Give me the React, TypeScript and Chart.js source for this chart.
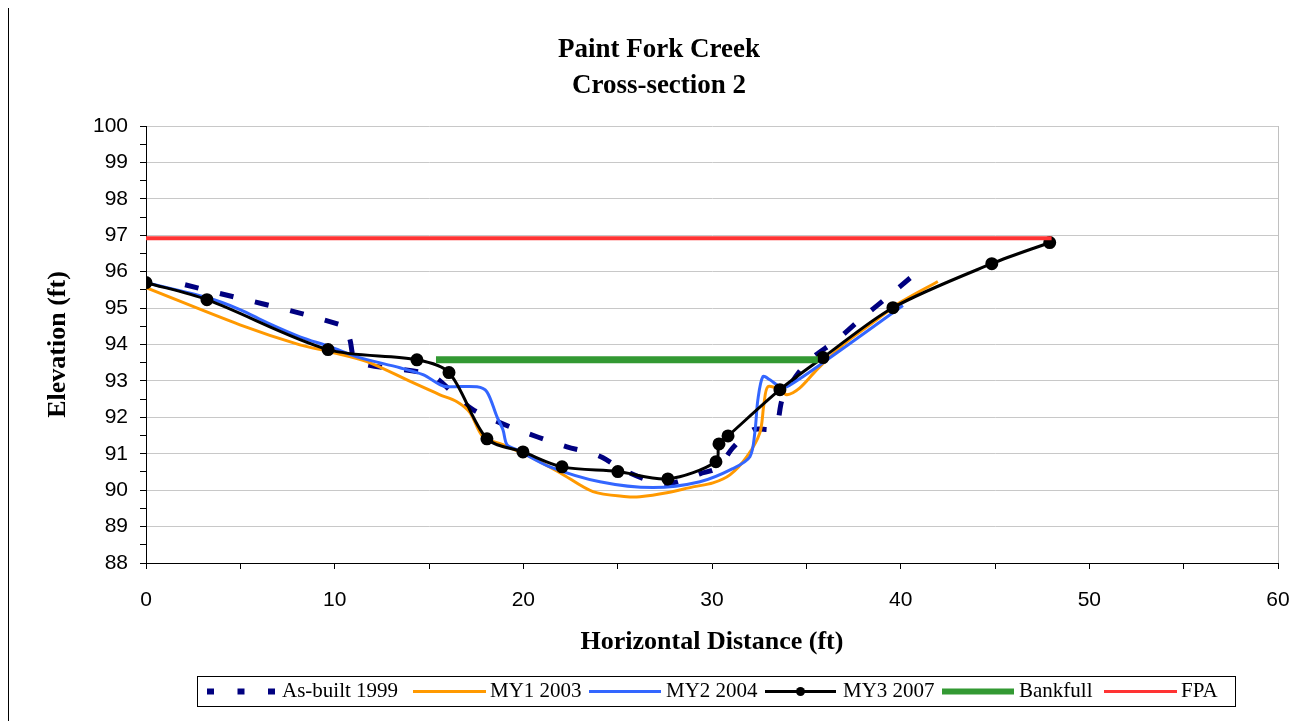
import React, { useEffect, useRef } from 'react';
import { Chart, registerables } from 'chart.js';

Chart.register(...registerables);

// ---- Data ----
const titleLines = ['Paint Fork Creek', 'Cross-section 2'];
const xAxisTitle = 'Horizontal Distance (ft)';
const yAxisTitle = 'Elevation (ft)';
const seriesNames = ['As-built 1999', 'MY1 2003', 'MY2 2004', 'MY3 2007', 'Bankfull', 'FPA'];

const xMin = 0;
const xMax = 60;
const xStep = 5;
const xLabelEvery = 10;
const yMin = 88;
const yMax = 100;
const yStep = 0.5;

const asBuiltX = [2.07, 10.6, 10.81, 11.18, 15.05, 16.48, 17.33, 19.29, 22.31, 23.53, 24.22, 25.28, 26.87, 27.93, 29.36, 30.31, 31.1, 32.17, 33.33, 33.76, 35.03, 36.62, 37.84, 39.27, 40.65];
const asBuiltY = [95.64, 94.49, 94.13, 93.53, 93.17, 92.57, 92.21, 91.74, 91.19, 91.03, 90.89, 90.56, 90.23, 90.2, 90.45, 90.62, 91.16, 91.66, 91.71, 92.54, 93.5, 94.13, 94.68, 95.29, 95.89];

const my1X = [0, 4.98, 8.16, 9.75, 11.71, 14.15, 15.58, 16.48, 17.17, 17.86, 18.92, 20.35, 21.94, 23.69, 25.49, 26.18, 27.61, 28.99, 30.05, 30.95, 31.85, 32.54, 32.75, 32.96, 33.6, 33.97, 34.66, 35.56, 36.94, 38.53, 39.96, 41.97];
const my1Y = [95.56, 94.54, 93.99, 93.8, 93.53, 92.95, 92.62, 92.43, 92.13, 91.47, 91.25, 90.92, 90.48, 89.96, 89.82, 89.82, 89.93, 90.09, 90.2, 90.42, 90.92, 91.58, 92.35, 92.84, 92.76, 92.62, 92.81, 93.31, 93.99, 94.6, 95.15, 95.73];

const my2X = [0, 3.23, 4.98, 6.41, 8.16, 9.75, 11.18, 13.46, 14.68, 15.58, 15.95, 17.54, 18.07, 18.6, 18.92, 19.13, 19.66, 21.41, 24.06, 26.87, 29.36, 31.1, 32.01, 32.27, 32.43, 32.7, 33.07, 33.6, 33.97, 35.88, 40.12];
const my2Y = [95.7, 95.29, 94.96, 94.6, 94.21, 93.94, 93.66, 93.36, 93.17, 92.9, 92.84, 92.84, 92.7, 92.02, 91.66, 91.25, 91.11, 90.64, 90.23, 90.07, 90.23, 90.59, 90.92, 91.58, 92.48, 93.12, 93.03, 92.84, 92.84, 93.5, 95.07];

const my3X = [0, 3.23, 9.65, 14.36, 16.06, 18.07, 19.98, 22.05, 25.01, 27.66, 30.21, 30.37, 30.85, 33.6, 35.88, 39.59, 44.83, 47.9];
const my3Y = [95.7, 95.23, 93.86, 93.58, 93.23, 91.41, 91.05, 90.64, 90.51, 90.31, 90.78, 91.27, 91.49, 92.76, 93.64, 95.01, 96.22, 96.8];

const bankfullX = [15.37, 35.61];
const bankfullY = [93.58, 93.58];

const fpaX = [0, 48.0];
const fpaY = [96.92, 96.92];

// ---- Styles ----
const serif = '"Liberation Serif", "Times New Roman", serif';
const sans = '"Liberation Sans", Arial, sans-serif';
const colors = ['#000080', '#FF9900', '#3366FF', '#000000', '#339933', '#FF3333'];

const toPoints = (xs: number[], ys: number[]) => xs.map((x, i) => ({ x, y: ys[i] }));

const legendPlugin = {
  id: 'boxLegend',
  afterDraw(chart: any) {
    const ctx = chart.ctx as CanvasRenderingContext2D;
    ctx.save();
    const bx = 188, by = 670, bw = 1038, bh = 30;
    ctx.strokeStyle = '#000';
    ctx.lineWidth = 1;
    ctx.strokeRect(bx + 0.5, by + 0.5, bw, bh);
    const cy = by + bh / 2 + 0.5;
    const items = [
      { x0: 198, x1: 266, tx: 273, width: 6, dash: [7, 23.5], marker: false },
      { x0: 404, x1: 477, tx: 481, width: 3, dash: [], marker: false },
      { x0: 580, x1: 652, tx: 657, width: 3, dash: [], marker: false },
      { x0: 756, x1: 827, tx: 834, width: 3, dash: [], marker: true },
      { x0: 933, x1: 1005, tx: 1010, width: 6, dash: [], marker: false },
      { x0: 1095, x1: 1168, tx: 1172, width: 3, dash: [], marker: false },
    ];
    items.forEach((it, i) => {
      ctx.strokeStyle = colors[i];
      ctx.lineWidth = it.width;
      ctx.setLineDash(it.dash);
      ctx.lineCap = 'butt';
      ctx.beginPath();
      ctx.moveTo(it.x0, cy);
      ctx.lineTo(it.x1, cy);
      ctx.stroke();
      ctx.setLineDash([]);
      if (it.marker) {
        ctx.fillStyle = colors[i];
        ctx.beginPath();
        ctx.arc((it.x0 + it.x1) / 2, cy, 4.5, 0, Math.PI * 2);
        ctx.fill();
      }
      ctx.fillStyle = '#000';
      ctx.font = `21px ${serif}`;
      ctx.textAlign = 'left';
      ctx.textBaseline = 'middle';
      ctx.fillText(seriesNames[i], it.tx, cy);
    });
    ctx.restore();
  },
};

export default function App() {
  const ref = useRef<HTMLCanvasElement>(null);

  useEffect(() => {
    const canvas = ref.current;
    if (!canvas) return;
    const chart = new Chart(canvas, {
      type: 'line',
      data: {
        datasets: [
          {
            label: seriesNames[0],
            data: toPoints(asBuiltX, asBuiltY),
            borderColor: colors[0],
            backgroundColor: colors[0],
            borderWidth: 5,
            borderDash: [14, 22],
            pointRadius: 0,
            tension: 0.3,
            fill: false,
            order: 6,
          },
          {
            label: seriesNames[1],
            data: toPoints(my1X, my1Y),
            borderColor: colors[1],
            backgroundColor: colors[1],
            borderWidth: 3,
            pointRadius: 0,
            tension: 0.3,
            fill: false,
            order: 5,
          },
          {
            label: seriesNames[2],
            data: toPoints(my2X, my2Y),
            borderColor: colors[2],
            backgroundColor: colors[2],
            borderWidth: 3,
            pointRadius: 0,
            tension: 0.3,
            fill: false,
            order: 4,
          },
          {
            label: seriesNames[3],
            data: toPoints(my3X, my3Y),
            borderColor: colors[3],
            backgroundColor: colors[3],
            borderWidth: 3,
            pointRadius: 5,
            pointBackgroundColor: colors[3],
            pointBorderColor: colors[3],
            tension: 0.3,
            fill: false,
            order: 3,
          },
          {
            label: seriesNames[4],
            data: toPoints(bankfullX, bankfullY),
            borderColor: colors[4],
            backgroundColor: colors[4],
            borderWidth: 7,
            pointRadius: 0,
            tension: 0,
            fill: false,
            order: 2,
          },
          {
            label: seriesNames[5],
            data: toPoints(fpaX, fpaY),
            borderColor: colors[5],
            backgroundColor: colors[5],
            borderWidth: 4,
            pointRadius: 0,
            tension: 0,
            fill: false,
            order: 1,
          },
        ],
      },
      options: {
        responsive: false,
        animation: false,
        devicePixelRatio: 1,
        layout: { padding: { left: 0, right: 0, top: 0, bottom: 0 } },
        plugins: {
          legend: { display: false },
          tooltip: { enabled: false },
          title: {
            display: true,
            text: titleLines,
            color: '#000',
            font: { family: serif, size: 27, weight: 'bold', lineHeight: 36 / 27 },
            padding: { top: 26, bottom: 22 },
          },
        },
        scales: {
          x: {
            type: 'linear',
            min: xMin,
            max: xMax,
            afterFit: (scale: any) => {
              scale.height = 158;
            },
            ticks: {
              stepSize: xStep,
              autoSkip: false,
              maxRotation: 0,
              padding: 19,
              color: '#000',
              font: { family: sans, size: 21 },
              callback: (v: any) => (Number(v) % xLabelEvery === 0 ? String(v) : ''),
            },
            grid: {
              color: (c: any) => (c.tick && c.tick.value === xMax ? '#c0c0c0' : 'rgba(0,0,0,0)'),
              tickColor: '#000',
              tickLength: 6,
              drawTicks: true,
            },
            border: { color: '#000', width: 1 },
            title: {
              display: true,
              text: xAxisTitle,
              color: '#000',
              font: { family: serif, size: 26, weight: 'bold', lineHeight: 1.2 },
              padding: { top: 0, bottom: 63 },
            },
          },
          y: {
            type: 'linear',
            min: yMin,
            max: yMax,
            afterFit: (scale: any) => {
              scale.width = 137;
            },
            ticks: {
              stepSize: yStep,
              autoSkip: false,
              padding: 12,
              color: '#000',
              font: { family: sans, size: 21 },
              callback: (v: any) => (Number.isInteger(Number(v)) ? String(v) : ''),
            },
            grid: {
              color: (c: any) => (c.tick && Number.isInteger(c.tick.value) ? '#c8c8c8' : 'rgba(0,0,0,0)'),
              tickColor: '#000',
              tickLength: 6,
              drawTicks: true,
            },
            border: { color: '#000', width: 1 },
            title: {
              display: true,
              text: yAxisTitle,
              color: '#000',
              font: { family: serif, size: 26, weight: 'bold', lineHeight: 1.2 },
              padding: { top: 33.4, bottom: 0 },
            },
          },
          yRightSpacer: {
            type: 'linear',
            position: 'right',
            display: true,
            afterFit: (scale: any) => {
              scale.width = 31;
            },
            ticks: { display: false },
            grid: { display: false, drawTicks: false },
            border: { display: false },
          },
        },
      },
      plugins: [legendPlugin],
    } as any);
    return () => chart.destroy();
  }, []);

  return (
    <div
      style={{
        marginTop: -3,
        width: 1301,
        height: 716,
        boxSizing: 'border-box',
        borderTop: '1px solid #000',
        borderLeft: '1px solid #000',
        background: '#fff',
      }}
    >
      <canvas ref={ref} width={1300} height={715} style={{ display: 'block' }} />
    </div>
  );
}
